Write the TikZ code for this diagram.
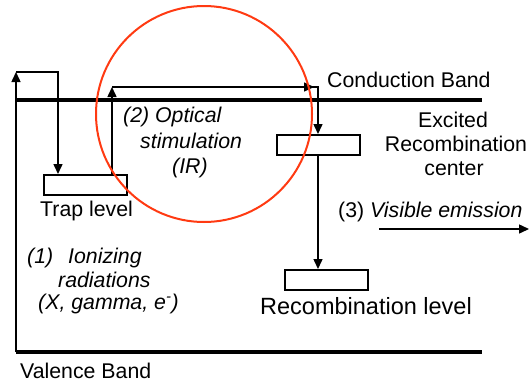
\documentclass[tikz,border=0pt]{standalone}
\usepackage{fontspec}
\setmainfont{Liberation Sans}
\usetikzlibrary{arrows.meta}
\definecolor{circred}{RGB}{255,58,18}
\begin{document}
\begin{tikzpicture}[x=1pt,y=-1pt,
  band/.style={line width=4pt},
  conn/.style={line width=1.5pt},
  arr/.style={conn,-{Triangle[length=10pt,width=9pt]}},
  lvlbox/.style={draw,line width=2pt,minimum width=83pt,minimum height=20pt,inner sep=0pt},
  lbl/.style={inner sep=0pt,font=\fontsize{21.3}{24}\selectfont},
  ilbl/.style={lbl,font=\fontsize{21.3}{24}\selectfont\itshape}]
\useasboundingbox (0,0) rectangle (529,383);
% bands
\coordinate (cbL) at (16,100);
\coordinate (cbR) at (482,100);
\coordinate (vbL) at (16,352);
\coordinate (vbR) at (482,352);
\draw[band] (cbL) -- (cbR);
\draw[band] (vbL) -- (vbR);
% level boxes
\node[lvlbox] (trap) at (85.5,185) {};
\node[lvlbox] (exc) at (318.5,145) {};
\node[lvlbox] (rec) at (326,280) {};
% corner coordinates
\coordinate (c1) at (16,72);
\coordinate (c2) at (58,72);
\coordinate (c3) at (112,87);
\coordinate (c4) at (318,87);
\coordinate (c5) at (314,87);
\coordinate (em1) at (379,229);
\coordinate (em2) at (529,229);
% connectors
\draw[arr] (vbL) -- (c1);
\draw[arr] (c1) -- (c2) -- (c2 |- trap.north);
\draw[arr] (c3 |- trap.north) -- (c3);
\draw[arr] (c3) -- (c5);
\draw[arr] (c3) -- (c4) -- (c4 |- exc.north);
\draw[arr] (c4 |- exc.south) -- (c4 |- rec.north);
\draw[arr] (em1) -- (em2);
% labels
\node[lbl,anchor=base west] (cbt) at (327,87) {Conduction Band};
\node[lbl,anchor=base west] (vbt) at (20,378) {Valence Band};
\node[lbl,anchor=base west] (trt) at (40,216) {Trap level};
\node[lbl,anchor=base west,font=\fontsize{23.5}{26}\selectfont] (rct) at (260,314) {Recombination level};
\node[lbl,anchor=base] (ex1) at (453,127) {Excited};
\node[lbl,anchor=base] (ex2) at (456,151) {Recombination};
\node[lbl,anchor=base] (ex3) at (454,175) {center};
\node[lbl,anchor=base west] (vis) at (338,217) {(3) \textit{Visible emission}};
\node[ilbl,anchor=base west] (os1) at (123,122) {(2) Optical};
\node[ilbl,anchor=base west] (os2) at (140,148) {stimulation};
\node[ilbl,anchor=base west] (os3) at (172,173) {(IR)};
\node[ilbl,anchor=base west] (io1) at (27,263) {(1)\hspace{15pt}Ionizing};
\node[ilbl,anchor=base west] (io2) at (58,287) {radiations};
\node[ilbl,anchor=base west] (io3) at (38,309) {(X, gamma, e\textsuperscript{-})};
% highlight circle
\draw[circred,line width=2pt] (204,114) circle[radius=108pt];
\end{tikzpicture}
\end{document}
